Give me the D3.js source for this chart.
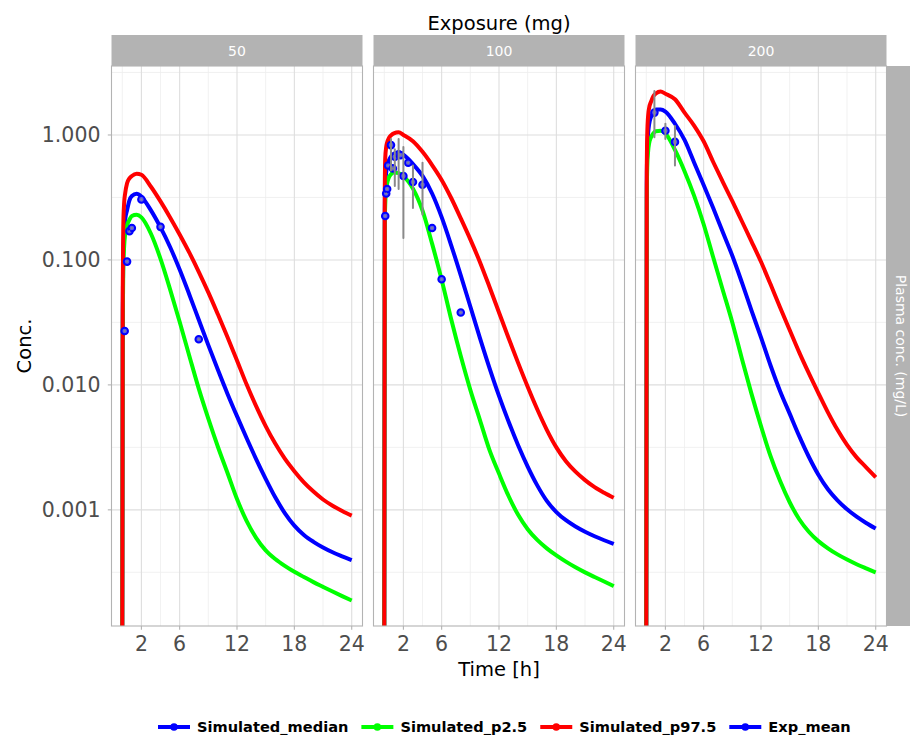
<!DOCTYPE html>
<html>
<head>
<meta charset="utf-8">
<script src="https://cdn.jsdelivr.net/npm/d3@7"></script>
<style>
  body { margin: 0; background: #ffffff; }
  svg { display: block; font-family: "DejaVu Sans", sans-serif; }
</style>
</head>
<body>
<svg id="chart" width="910" height="735"></svg>
<script>
// ---------------- DATA ----------------
const doses = ["50", "100", "200"];
const seriesNames = ["Simulated_median", "Simulated_p2.5", "Simulated_p97.5", "Exp_mean"];
const seriesColors = ["#0000FF", "#00FF00", "#FF0000", "#0000FF"];

const times = [0, 0.05, 0.1, 0.2, 0.3, 0.5, 0.75, 1, 1.5,
  2, 3, 4, 5, 6, 7, 8, 9, 10, 11, 12, 13, 14, 15, 16, 17, 18, 19, 20, 21, 22, 23, 24];

// Dose 50 mg
const median50 = [0, 0.04, 0.11, 0.17, 0.21, 0.25, 0.30, 0.325, 0.338,
  0.321, 0.249, 0.182, 0.127, 0.0838, 0.0532, 0.0332, 0.0208, 0.0132, 0.00851, 0.00562, 0.00376,
  0.00255, 0.00177, 0.00126, 0.000942, 0.000748, 0.00063, 0.000555, 0.0005, 0.000458, 0.000425, 0.000396];
const p025_50 = [0, 0.03, 0.08, 0.13, 0.16, 0.19, 0.21, 0.225, 0.23,
  0.219, 0.162, 0.102, 0.0582, 0.032, 0.0172, 0.00933, 0.00537, 0.0032, 0.00198, 0.00122, 0.000815,
  0.000597, 0.000474, 0.000404, 0.000356, 0.000319, 0.00029, 0.000264, 0.000242, 0.000222, 0.000204, 0.000188];
const p975_50 = [0, 0.06, 0.18, 0.29, 0.34, 0.41, 0.45, 0.47, 0.49,
  0.48, 0.385, 0.294, 0.219, 0.16, 0.115, 0.0804, 0.055, 0.0367, 0.0242, 0.0157, 0.0101,
  0.00676, 0.00468, 0.00339, 0.00257, 0.00204, 0.00166, 0.0014, 0.00121, 0.00108, 0.00098, 0.0009];

// Dose 100 mg
const median100 = [0, 0.25, 0.4, 0.5, 0.56, 0.63, 0.68, 0.71, 0.72,
  0.695, 0.585, 0.47, 0.34, 0.22, 0.131, 0.0753, 0.0424, 0.0238, 0.0137, 0.00817, 0.00509,
  0.00329, 0.00222, 0.00157, 0.00118, 0.00096, 0.000826, 0.000736, 0.000668, 0.000615, 0.000571, 0.000533];
const p025_100 = [0, 0.18, 0.28, 0.36, 0.41, 0.46, 0.49, 0.5, 0.495,
  0.468, 0.372, 0.248, 0.135, 0.0695, 0.0335, 0.017, 0.00912, 0.00525, 0.00302, 0.00195, 0.00129,
  0.000912, 0.0007, 0.000575, 0.000492, 0.000432, 0.000385, 0.000347, 0.000316, 0.00029, 0.000267, 0.000245];
const p975_100 = [0, 0.35, 0.65, 0.8, 0.87, 0.95, 1.0, 1.03, 1.05,
  1.0, 0.891, 0.733, 0.575, 0.437, 0.313, 0.215, 0.146, 0.0964, 0.061, 0.038, 0.0237,
  0.015, 0.00966, 0.00638, 0.00437, 0.00316, 0.00245, 0.00202, 0.00173, 0.00152, 0.00137, 0.00125];

// Dose 200 mg
const median200 = [0, 0.4, 0.75, 1.05, 1.22, 1.4, 1.5, 1.6, 1.6,
  1.54, 1.23, 0.912, 0.603, 0.398, 0.26, 0.167, 0.108, 0.0661, 0.0395, 0.024, 0.0143,
  0.00891, 0.00589, 0.00389, 0.00266, 0.00191, 0.00146, 0.00119, 0.00101, 0.000881, 0.000785, 0.000708];
const p025_200 = [0, 0.3, 0.55, 0.75, 0.86, 0.96, 1.03, 1.07, 1.08,
  1.03, 0.759, 0.513, 0.327, 0.193, 0.105, 0.0575, 0.0316, 0.0162, 0.00851, 0.00468, 0.00269,
  0.0017, 0.00115, 0.000841, 0.000668, 0.000562, 0.000492, 0.00044, 0.0004, 0.000367, 0.00034, 0.000316];
const p975_200 = [0, 0.5, 1.0, 1.45, 1.65, 1.85, 2.05, 2.15, 2.23,
  2.14, 1.93, 1.51, 1.19, 0.89, 0.608, 0.422, 0.295, 0.204, 0.141, 0.0966, 0.0638,
  0.0417, 0.0275, 0.0182, 0.0124, 0.0086, 0.00603, 0.00437, 0.00331, 0.00263, 0.00219, 0.00182];

// Observed means (with optional low/high of the error bar)
const expTime50 = [0.25, 0.5, 0.75, 1, 2, 4, 8];
const expMean50 = [0.027, 0.097, 0.17, 0.18, 0.305, 0.184, 0.0232];
const expLow50  = [null, null, null, null, null, null, null];
const expHigh50 = [null, null, null, null, null, null, null];

const expTime100 = [0.1, 0.2, 0.3, 0.4, 0.7, 0.9, 1.1, 1.5, 1.7, 2, 2.5, 3, 4, 5, 6, 8];
const expMean100 = [0.225, 0.34, 0.37, 0.57, 0.83, 0.54, 0.67, 0.70, 0.69, 0.47, 0.60, 0.42, 0.40, 0.18, 0.07, 0.038];
const expLow100  = [null, null, null, null, 0.52, null, 0.39, 0.37, null, 0.15, null, 0.26, 0.23, null, null, null];
const expHigh100 = [null, null, null, null, 0.93, null, 0.77, 0.93, null, 0.80, null, 0.57, 0.60, null, null, null];

const expTime200 = [0.85, 2, 3];
const expMean200 = [1.51, 1.08, 0.88];
const expLow200  = [0.96, 0.93, 0.57];
const expHigh200 = [2.25, 1.23, 1.18];

const xTicks = [2, 6, 12, 18, 24];
const yTicks = [0.001, 0.01, 0.1, 1];
const yTickLabels = ["0.001", "0.010", "0.100", "1.000"];

const titleTop = "Exposure (mg)";
const xTitle = "Time [h]";
const yTitle = "Conc.";
const rowStrip = "Plasma conc. (mg/L)";

// ---------------- BUILD ----------------
const panels = [
  { dose: doses[0], sims: [median50, p025_50, p975_50], exp: [expTime50, expMean50, expLow50, expHigh50] },
  { dose: doses[1], sims: [median100, p025_100, p975_100], exp: [expTime100, expMean100, expLow100, expHigh100] },
  { dose: doses[2], sims: [median200, p025_200, p975_200], exp: [expTime200, expMean200, expLow200, expHigh200] }
];

const svg = d3.select("#chart");
const firstLeft = 111.5, panelW = 251, panelGap = 11;
const panelTop = 66, panelBottom = 626;
const stripTop = 35;
const grey70 = "#B3B3B3";

const xMax = d3.max(times);
const xPad = xMax * 0.047;
const allPos = [];
panels.forEach(p => { p.sims.forEach(s => s.forEach(v => { if (v > 0) allPos.push(v); })); });
const lmin = Math.log10(d3.min(allPos)), lmax = Math.log10(d3.max(allPos));
const lr = lmax - lmin;
const y = d3.scaleLog().domain([Math.pow(10, lmin - 0.05 * lr), Math.pow(10, lmax + 0.05 * lr)])
  .range([panelBottom, panelTop]);

function minorLinear(br, dom) {
  const b = br.slice();
  b.unshift(b[0] - (b[1] - b[0]));
  b.push(b[b.length - 1] + (b[b.length - 1] - b[b.length - 2]));
  const m = [];
  for (let i = 0; i < b.length - 1; i++) m.push((b[i] + b[i + 1]) / 2);
  return m.filter(v => v >= dom[0] && v <= dom[1] && !br.includes(v));
}
function minorLog(br, dom) {
  const l = br.map(Math.log10);
  l.unshift(l[0] - 1); l.push(l[l.length - 1] + 1);
  const m = [];
  for (let i = 0; i < l.length - 1; i++) m.push(Math.pow(10, (l[i] + l[i + 1]) / 2));
  return m.filter(v => v >= dom[0] && v <= dom[1]);
}
const yMinor = minorLog(yTicks, y.domain());

const defs = svg.append("defs");

panels.forEach((p, i) => {
  const left = firstLeft + i * (panelW + panelGap);
  const x = d3.scaleLinear().domain([-xPad, xMax + xPad]).range([left, left + panelW]);
  const xMinor = minorLinear(xTicks, x.domain());
  const g = svg.append("g");

  defs.append("clipPath").attr("id", "clip" + i)
    .append("rect").attr("x", left).attr("y", panelTop).attr("width", panelW).attr("height", panelBottom - panelTop);

  g.append("rect").attr("x", left).attr("y", panelTop).attr("width", panelW).attr("height", panelBottom - panelTop)
    .attr("fill", "#fff");

  g.selectAll(".xmin").data(xMinor).enter().append("line")
    .attr("x1", d => x(d)).attr("x2", d => x(d)).attr("y1", panelTop).attr("y2", panelBottom)
    .attr("stroke", "#EDEDED").attr("stroke-width", 0.8);
  g.selectAll(".ymin").data(yMinor).enter().append("line")
    .attr("x1", left).attr("x2", left + panelW).attr("y1", d => y(d)).attr("y2", d => y(d))
    .attr("stroke", "#EDEDED").attr("stroke-width", 0.8);
  g.selectAll(".xmaj").data(xTicks).enter().append("line")
    .attr("x1", d => x(d)).attr("x2", d => x(d)).attr("y1", panelTop).attr("y2", panelBottom)
    .attr("stroke", "#DEDEDE").attr("stroke-width", 1.1);
  g.selectAll(".ymaj").data(yTicks).enter().append("line")
    .attr("x1", left).attr("x2", left + panelW).attr("y1", d => y(d)).attr("y2", d => y(d))
    .attr("stroke", "#DEDEDE").attr("stroke-width", 1.1);

  const plot = g.append("g").attr("clip-path", "url(#clip" + i + ")");
  const line = d3.line()
    .x((d, k) => x(times[k]))
    .y(d => d > 0 ? y(d) : panelBottom + 6)
    .curve(d3.curveMonotoneX);

  p.sims.forEach((s, k) => {
    plot.append("path").datum(s).attr("d", line)
      .attr("fill", "none").attr("stroke", seriesColors[k]).attr("stroke-width", 4)
      .attr("stroke-linejoin", "round");
  });

  const [et, em, el, eh] = p.exp;
  const pts = et.map((t, k) => ({ t: t, m: em[k], lo: el[k] == null ? em[k] : el[k], hi: eh[k] == null ? em[k] : eh[k] }));
  plot.selectAll(".pt").data(pts).enter().append("circle")
    .attr("cx", d => x(d.t)).attr("cy", d => y(d.m)).attr("r", 3.3)
    .attr("fill", "#5a5ae8").attr("stroke", seriesColors[3]).attr("stroke-width", 2);
  plot.selectAll(".eb").data(pts).enter().append("line")
    .attr("x1", d => x(d.t)).attr("x2", d => x(d.t))
    .attr("y1", d => y(d.lo)).attr("y2", d => y(d.hi))
    .attr("stroke", "#8A8A8A").attr("stroke-width", 2).attr("stroke-linecap", "round");

  g.append("rect").attr("x", left).attr("y", panelTop).attr("width", panelW).attr("height", panelBottom - panelTop)
    .attr("fill", "none").attr("stroke", grey70).attr("stroke-width", 1.1);

  g.selectAll(".xt").data(xTicks).enter().append("line")
    .attr("x1", d => x(d)).attr("x2", d => x(d)).attr("y1", panelBottom).attr("y2", panelBottom + 3.7)
    .attr("stroke", grey70).attr("stroke-width", 1.1);
  g.selectAll(".xl").data(xTicks).enter().append("text")
    .attr("x", d => x(d)).attr("y", 651).attr("text-anchor", "middle")
    .attr("font-size", 20.5).attr("fill", "#4D4D4D").text(d => d);

  g.append("rect").attr("x", left).attr("y", stripTop).attr("width", panelW).attr("height", panelTop - stripTop)
    .attr("fill", grey70);
  g.append("text").attr("x", left + panelW / 2).attr("y", (stripTop + panelTop) / 2)
    .attr("dy", "0.36em").attr("text-anchor", "middle").attr("font-size", 14).attr("fill", "#FFFFFF")
    .text(p.dose);

  if (i === 0) {
    g.selectAll(".yt").data(yTicks).enter().append("line")
      .attr("x1", left - 3.7).attr("x2", left).attr("y1", d => y(d)).attr("y2", d => y(d))
      .attr("stroke", grey70).attr("stroke-width", 1.1);
    g.selectAll(".yl").data(yTicks).enter().append("text")
      .attr("x", left - 11).attr("y", d => y(d)).attr("dy", "0.36em").attr("text-anchor", "end")
      .attr("font-size", 20.5).attr("fill", "#4D4D4D").text((d, k) => yTickLabels[k]);
  }
});

const lastRight = firstLeft + 3 * panelW + 2 * panelGap;
svg.append("rect").attr("x", lastRight).attr("y", panelTop).attr("width", 40).attr("height", panelBottom - panelTop)
  .attr("fill", grey70);
svg.append("text").attr("transform", `translate(${lastRight + 14.5},${(panelTop + panelBottom) / 2}) rotate(90)`)
  .attr("text-anchor", "middle").attr("dy", "0.36em").attr("font-size", 14).attr("fill", "#FFFFFF").text(rowStrip);

const centerX = (firstLeft + lastRight) / 2;
svg.append("text").attr("x", centerX).attr("y", 30).attr("text-anchor", "middle")
  .attr("font-size", 19.5).attr("fill", "#000").text(titleTop);
svg.append("text").attr("x", centerX).attr("y", 676).attr("text-anchor", "middle")
  .attr("font-size", 19.5).attr("fill", "#000").text(xTitle);
svg.append("text").attr("transform", `translate(31,${(panelTop + panelBottom) / 2}) rotate(-90)`)
  .attr("text-anchor", "middle").attr("font-size", 19.5).attr("fill", "#000").text(yTitle);

const leg = svg.append("g");
let lx = 158;
const ly = 727;
seriesNames.forEach((name, k) => {
  leg.append("line").attr("x1", lx).attr("x2", lx + 32).attr("y1", ly).attr("y2", ly)
    .attr("stroke", seriesColors[k]).attr("stroke-width", 4);
  leg.append("circle").attr("cx", lx + 16).attr("cy", ly).attr("r", 3.8).attr("fill", seriesColors[k]);
  const t = leg.append("text").attr("x", lx + 39).attr("y", ly + 5.2).attr("font-size", 14.6)
    .attr("font-weight", "bold").attr("fill", "#000").text(name);
  lx = lx + 39 + t.node().getComputedTextLength() + 13;
});
</script>
</body>
</html>
